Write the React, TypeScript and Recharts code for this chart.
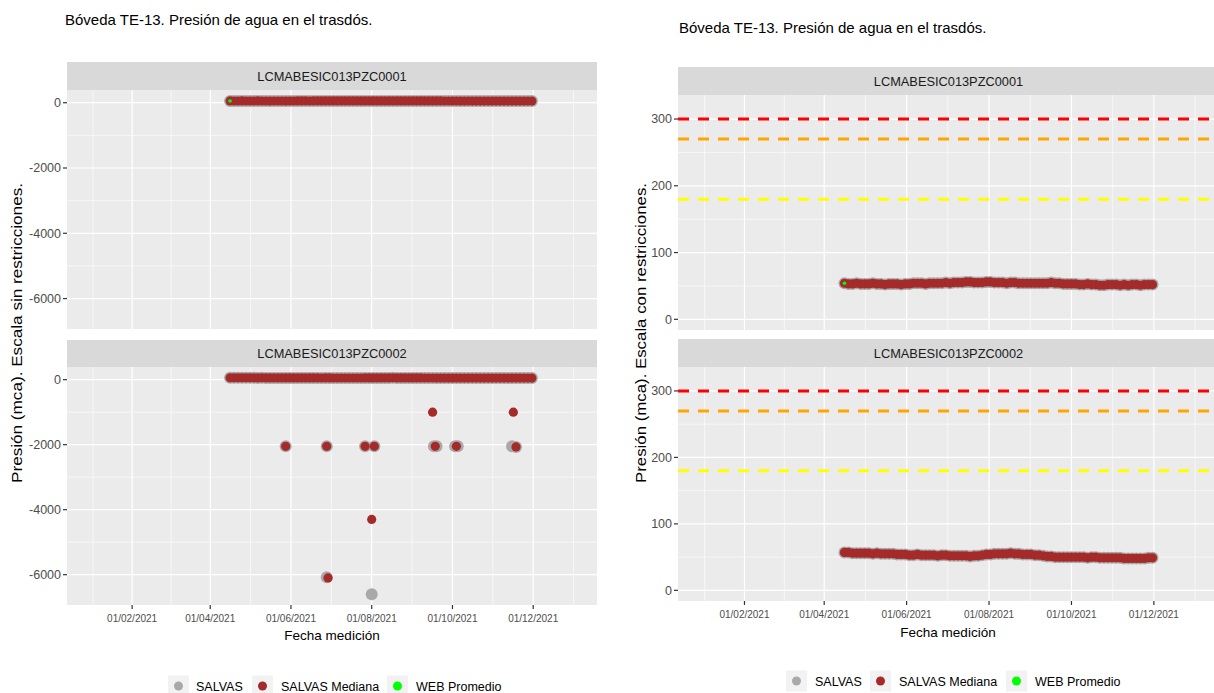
import React from 'react';
import { ScatterChart, Scatter, XAxis, YAxis, CartesianGrid, ReferenceLine } from 'recharts';

// ---------------- Texts ----------------
const chartTitle = 'Bóveda TE-13. Presión de agua en el trasdós.';
const panelNames = ['LCMABESIC013PZC0001', 'LCMABESIC013PZC0002'];
const xAxisTitle = 'Fecha medición';
const yTitleLeft = 'Presión (mca). Escala sin restricciones.';
const yTitleRight = 'Presión (mca). Escala con restricciones.';
const legendLabels = ['SALVAS', 'SALVAS Mediana', 'WEB Promedio'];

// ---------------- Axes ----------------
const xLimits = ['01/01/2021', '31/12/2021'];
const xTickLabels = ['01/02/2021', '01/04/2021', '01/06/2021', '01/08/2021', '01/10/2021', '01/12/2021'];
const yLimitsLeft = [-6600, 57];
const yTicksLeft = [-6000, -4000, -2000, 0];
const yLimitsRight = [0, 320];
const yTicksRight = [0, 100, 200, 300];
const thresholds = [300, 270, 180];

// ---------------- Data (2021) ----------------
const fechas = [
  '16/04', '19/04', '22/04', '25/04', '28/04',
  '01/05', '04/05', '07/05', '10/05', '13/05', '16/05', '19/05', '22/05', '25/05', '28/05', '31/05',
  '03/06', '06/06', '09/06', '12/06', '15/06', '18/06', '21/06', '24/06', '27/06', '30/06',
  '03/07', '06/07', '09/07', '12/07', '15/07', '18/07', '21/07', '24/07', '27/07', '30/07',
  '02/08', '05/08', '08/08', '11/08', '14/08', '17/08', '20/08', '23/08', '26/08', '29/08',
  '01/09', '04/09', '07/09', '10/09', '13/09', '16/09', '19/09', '22/09', '25/09', '28/09',
  '01/10', '04/10', '07/10', '10/10', '13/10', '16/10', '19/10', '22/10', '25/10', '28/10', '31/10',
  '03/11', '06/11', '09/11', '12/11', '15/11', '18/11', '21/11', '24/11', '27/11', '30/11',
];
const mediana0001 = [
  54, 53, 53, 54, 53,
  53, 53, 54, 53, 53, 52, 53, 53, 53, 52, 53,
  53, 54, 54, 54, 53, 54, 54, 54, 54, 55,
  54, 55, 55, 55, 56, 56, 55, 55, 55, 56,
  56, 55, 55, 55, 54, 55, 55, 54, 54, 54,
  54, 54, 54, 54, 54, 55, 54, 54, 53, 53,
  53, 53, 52, 52, 53, 52, 52, 51, 51, 52, 52,
  52, 51, 52, 51, 52, 52, 51, 52, 52, 52,
];
const mediana0002 = [
  57, 57, 56, 56, 56,
  56, 56, 55, 56, 55, 55, 55, 55, 54, 54, 54,
  53, 53, 54, 53, 53, 53, 53, 52, 53, 53,
  52, 52, 52, 52, 52, 51, 52, 52, 53, 54,
  54, 55, 55, 55, 55, 56, 55, 55, 54, 54,
  54, 53, 53, 52, 51, 51, 50, 50, 50, 50,
  50, 50, 50, 50, 49, 50, 50, 49, 49, 49, 49,
  49, 49, 48, 48, 48, 48, 48, 48, 49, 49,
];
// Isolated readings PZC0002
const atipMedianaFechas0002 = ['28/05', '28/06', '29/06', '27/07', '01/08', '03/08', '16/09', '18/09', '04/10', '16/11', '18/11'];
const atipMediana0002 = [-2050, -2050, -6100, -2050, -4300, -2050, -1000, -2050, -2050, -1000, -2070];
const atipSalvasFechas0002 = ['28/05', '28/06', '28/06', '27/07', '03/08', '01/08', '17/09', '19/09', '03/10', '05/10', '15/11', '18/11'];
const atipSalvas0002 = [-2050, -2050, -6080, -2050, -2050, -6600, -2050, -2050, -2050, -2050, -2050, -2070];
// WEB average
const webFechas0001 = ['16/04'];
const web0001 = [54];

// ---------------- Styles ----------------
const FONT = "'Liberation Sans', Arial, Helvetica, sans-serif";
const COL = {
  panel: '#EBEBEB', strip: '#D9D9D9', grid: '#FFFFFF', salvas: '#A9A9A9', mediana: '#A52A2A',
  web: '#00FF00', axisText: '#4D4D4D', tick: '#333333', key: '#F2F2F2', text: '#1A1A1A',
};
const thresholdColors = ['#FF0000', '#FFA500', '#FFFF00'];

// ---------------- Helpers ----------------
const toTime = (s: string) => {
  const p = s.split('/').map(Number);
  return Date.UTC(p[2] || 2021, p[1] - 1, p[0]);
};
const pad = (n: number) => (n < 10 ? '0' + n : '' + n);
const fmtDate = (v: number) => {
  const d = new Date(v);
  return `${pad(d.getUTCDate())}/${pad(d.getUTCMonth() + 1)}/${d.getUTCFullYear()}`;
};
const expand = (lim: number[]) => {
  const r = lim[1] - lim[0];
  return [lim[0] - 0.05 * r, lim[1] + 0.05 * r];
};
const minorOf = (ticks: number[], dom: number[]) => {
  const out: number[] = [];
  out.push(ticks[0] - (ticks[1] - ticks[0]) / 2);
  for (let i = 0; i < ticks.length - 1; i++) out.push((ticks[i] + ticks[i + 1]) / 2);
  const n = ticks.length;
  out.push(ticks[n - 1] + (ticks[n - 1] - ticks[n - 2]) / 2);
  return out.filter((v) => v > dom[0] && v < dom[1]);
};
const scaleOf = (axis: any, v: number) => {
  const s = axis && axis.scale;
  if (!s) return NaN;
  if (typeof s === 'function') return s(v);
  if (typeof s.map === 'function') return s.map(v);
  return NaN;
};
const pts = (dates: string[], vals: number[]) => dates.map((d, i) => ({ x: toTime(d), y: vals[i] }));
const dot = (r: number, fill: string) => (p: any) =>
  p.cx == null || p.cy == null ? <g /> : <circle cx={p.cx} cy={p.cy} r={r} fill={fill} />;

const xDomain = expand(xLimits.map(toTime));
const xTicks = xTickLabels.map(toTime);
const xMinor = minorOf(xTicks, xDomain);
const yDomLeft = expand(yLimitsLeft);
const yDomRight = expand(yLimitsRight);

// series per piezometer
const series = [
  {
    salvas: pts(fechas, mediana0001),
    mediana: pts(fechas, mediana0001),
    web: pts(webFechas0001, web0001),
  },
  {
    salvas: [...pts(fechas, mediana0002), ...pts(atipSalvasFechas0002, atipSalvas0002)],
    mediana: [...pts(fechas, mediana0002), ...pts(atipMedianaFechas0002, atipMediana0002)],
    web: [] as { x: number; y: number }[],
  },
];

type PanelProps = {
  plotX: number; plotY: number; plotW: number; plotH: number; axisW: number; showX: boolean;
  yDomain: number[]; yTicks: number[]; data: typeof series[0]; withThresholds: boolean;
};

function Panel(props: PanelProps) {
  const { plotX, plotY, plotW, plotH, axisW, showX, yDomain, yTicks, data, withThresholds } = props;
  const xAxisH = showX ? 30 : 0;
  const yMinor = minorOf(yTicks, yDomain);
  const inDom = (p: { y: number }) => p.y >= yDomain[0] && p.y <= yDomain[1];
  return (
    <div style={{ position: 'absolute', left: plotX - axisW, top: plotY }}>
      <ScatterChart width={axisW + plotW} height={plotH + xAxisH} margin={{ top: 0, right: 0, bottom: 0, left: 0 }}>
        <CartesianGrid
          fill={COL.panel}
          stroke={COL.grid}
          strokeWidth={0.6}
          horizontalCoordinatesGenerator={(p: any) => yMinor.map((v) => scaleOf(p.yAxis, v))}
          verticalCoordinatesGenerator={(p: any) => xMinor.map((v) => scaleOf(p.xAxis, v))}
        />
        <CartesianGrid
          fill="none"
          stroke={COL.grid}
          strokeWidth={1.2}
          horizontalCoordinatesGenerator={(p: any) => yTicks.map((v) => scaleOf(p.yAxis, v))}
          verticalCoordinatesGenerator={(p: any) => xTicks.map((v) => scaleOf(p.xAxis, v))}
        />
        <XAxis
          type="number"
          dataKey="x"
          domain={xDomain}
          ticks={xTicks}
          interval={0}
          allowDataOverflow
          hide={!showX}
          height={xAxisH}
          tickFormatter={fmtDate}
          tickSize={4}
          tickMargin={6}
          axisLine={false}
          tickLine={{ stroke: COL.tick, strokeWidth: 1.2 }}
          tick={{ fill: COL.axisText, fontSize: 10, fontFamily: FONT }}
        />
        <YAxis
          type="number"
          dataKey="y"
          domain={yDomain}
          ticks={yTicks}
          interval={0}
          allowDataOverflow
          width={axisW}
          tickSize={4}
          tickMargin={2}
          axisLine={false}
          tickLine={{ stroke: COL.tick, strokeWidth: 1.2 }}
          tick={{ fill: COL.axisText, fontSize: 12.5, fontFamily: FONT }}
        />
        {withThresholds &&
          thresholds.map((v, i) => (
            <ReferenceLine key={v} y={v} stroke={thresholdColors[i]} strokeWidth={3} strokeDasharray="11 9" />
          ))}
        <Scatter data={data.salvas.filter(inDom)} shape={dot(6, COL.salvas)} isAnimationActive={false} />
        <Scatter data={data.mediana.filter(inDom)} shape={dot(4.6, COL.mediana)} isAnimationActive={false} />
        <Scatter data={data.web.filter(inDom)} shape={dot(1.8, COL.web)} isAnimationActive={false} />
      </ScatterChart>
    </div>
  );
}

const layouts = [
  {
    plotX: 67, plotW: 530, axisW: 67,
    strips: [[62, 28], [340, 27]], plots: [[90, 239], [367, 238]],
    yDomain: yDomLeft, yTicks: yTicksLeft, thresholds: false,
    title: [65, 25], xTitle: [332, 640], yTitle: [17, 333], yTitleText: yTitleLeft,
    legendY: 686, keys: [168, 252, 387], texts: [196, 281, 416],
  },
  {
    plotX: 678, plotW: 541, axisW: 60,
    strips: [[67, 28], [339, 28]], plots: [[95, 235], [367, 234]],
    yDomain: yDomRight, yTicks: yTicksRight, thresholds: true,
    title: [679, 33], xTitle: [948, 637], yTitle: [641, 333], yTitleText: yTitleRight,
    legendY: 681, keys: [786, 870, 1006], texts: [815, 899, 1035],
  },
];

const legendColors = [COL.salvas, COL.mediana, COL.web];

export default function App() {
  return (
    <div style={{ position: 'absolute', left: 0, top: 0, width: 1214, height: 693, overflow: 'hidden', background: '#FFFFFF', fontFamily: FONT }}>
      <svg width={1214} height={693} style={{ position: 'absolute', left: 0, top: 0 }}>
        {layouts.map((L, k) => (
          <g key={k}>
            <text x={L.title[0]} y={L.title[1]} fontSize={15} fill="#000" fontFamily={FONT}>{chartTitle}</text>
            <text x={L.xTitle[0]} y={L.xTitle[1]} fontSize={13.5} fill="#000" textAnchor="middle" fontFamily={FONT}>{xAxisTitle}</text>
            <text
              transform={`translate(${L.yTitle[0]},${L.yTitle[1]}) rotate(-90)`}
              fontSize={14}
              fill="#000"
              textAnchor="middle"
              dominantBaseline="central"
              fontFamily={FONT}
              textLength={300}
              lengthAdjust="spacingAndGlyphs"
            >
              {L.yTitleText}
            </text>
            {legendLabels.map((lab, i) => (
              <g key={lab}>
                <rect x={L.keys[i]} y={L.legendY - 10.5} width={21} height={21} fill={COL.key} />
                <circle cx={L.keys[i] + 10.5} cy={L.legendY} r={4.5} fill={legendColors[i]} />
                <text x={L.texts[i]} y={L.legendY + 4.5} fontSize={12.5} fill="#000" fontFamily={FONT}>{lab}</text>
              </g>
            ))}
            {L.strips.map((s, i) => (
              <g key={'s' + i}>
                <rect x={L.plotX} y={s[0]} width={L.plotW} height={s[1]} fill={COL.strip} />
                <text x={L.plotX + L.plotW / 2} y={s[0] + s[1] / 2} fontSize={12.8} fill={COL.text} textAnchor="middle" dominantBaseline="central" fontFamily={FONT}>
                  {panelNames[i]}
                </text>
              </g>
            ))}
          </g>
        ))}
      </svg>
      {layouts.map((L, k) =>
        L.plots.map((p, i) => (
          <Panel
            key={k + '-' + i}
            plotX={L.plotX}
            plotY={p[0]}
            plotW={L.plotW}
            plotH={p[1]}
            axisW={L.axisW}
            showX={i === 1}
            yDomain={L.yDomain}
            yTicks={L.yTicks}
            data={series[i]}
            withThresholds={L.thresholds}
          />
        ))
      )}
    </div>
  );
}
